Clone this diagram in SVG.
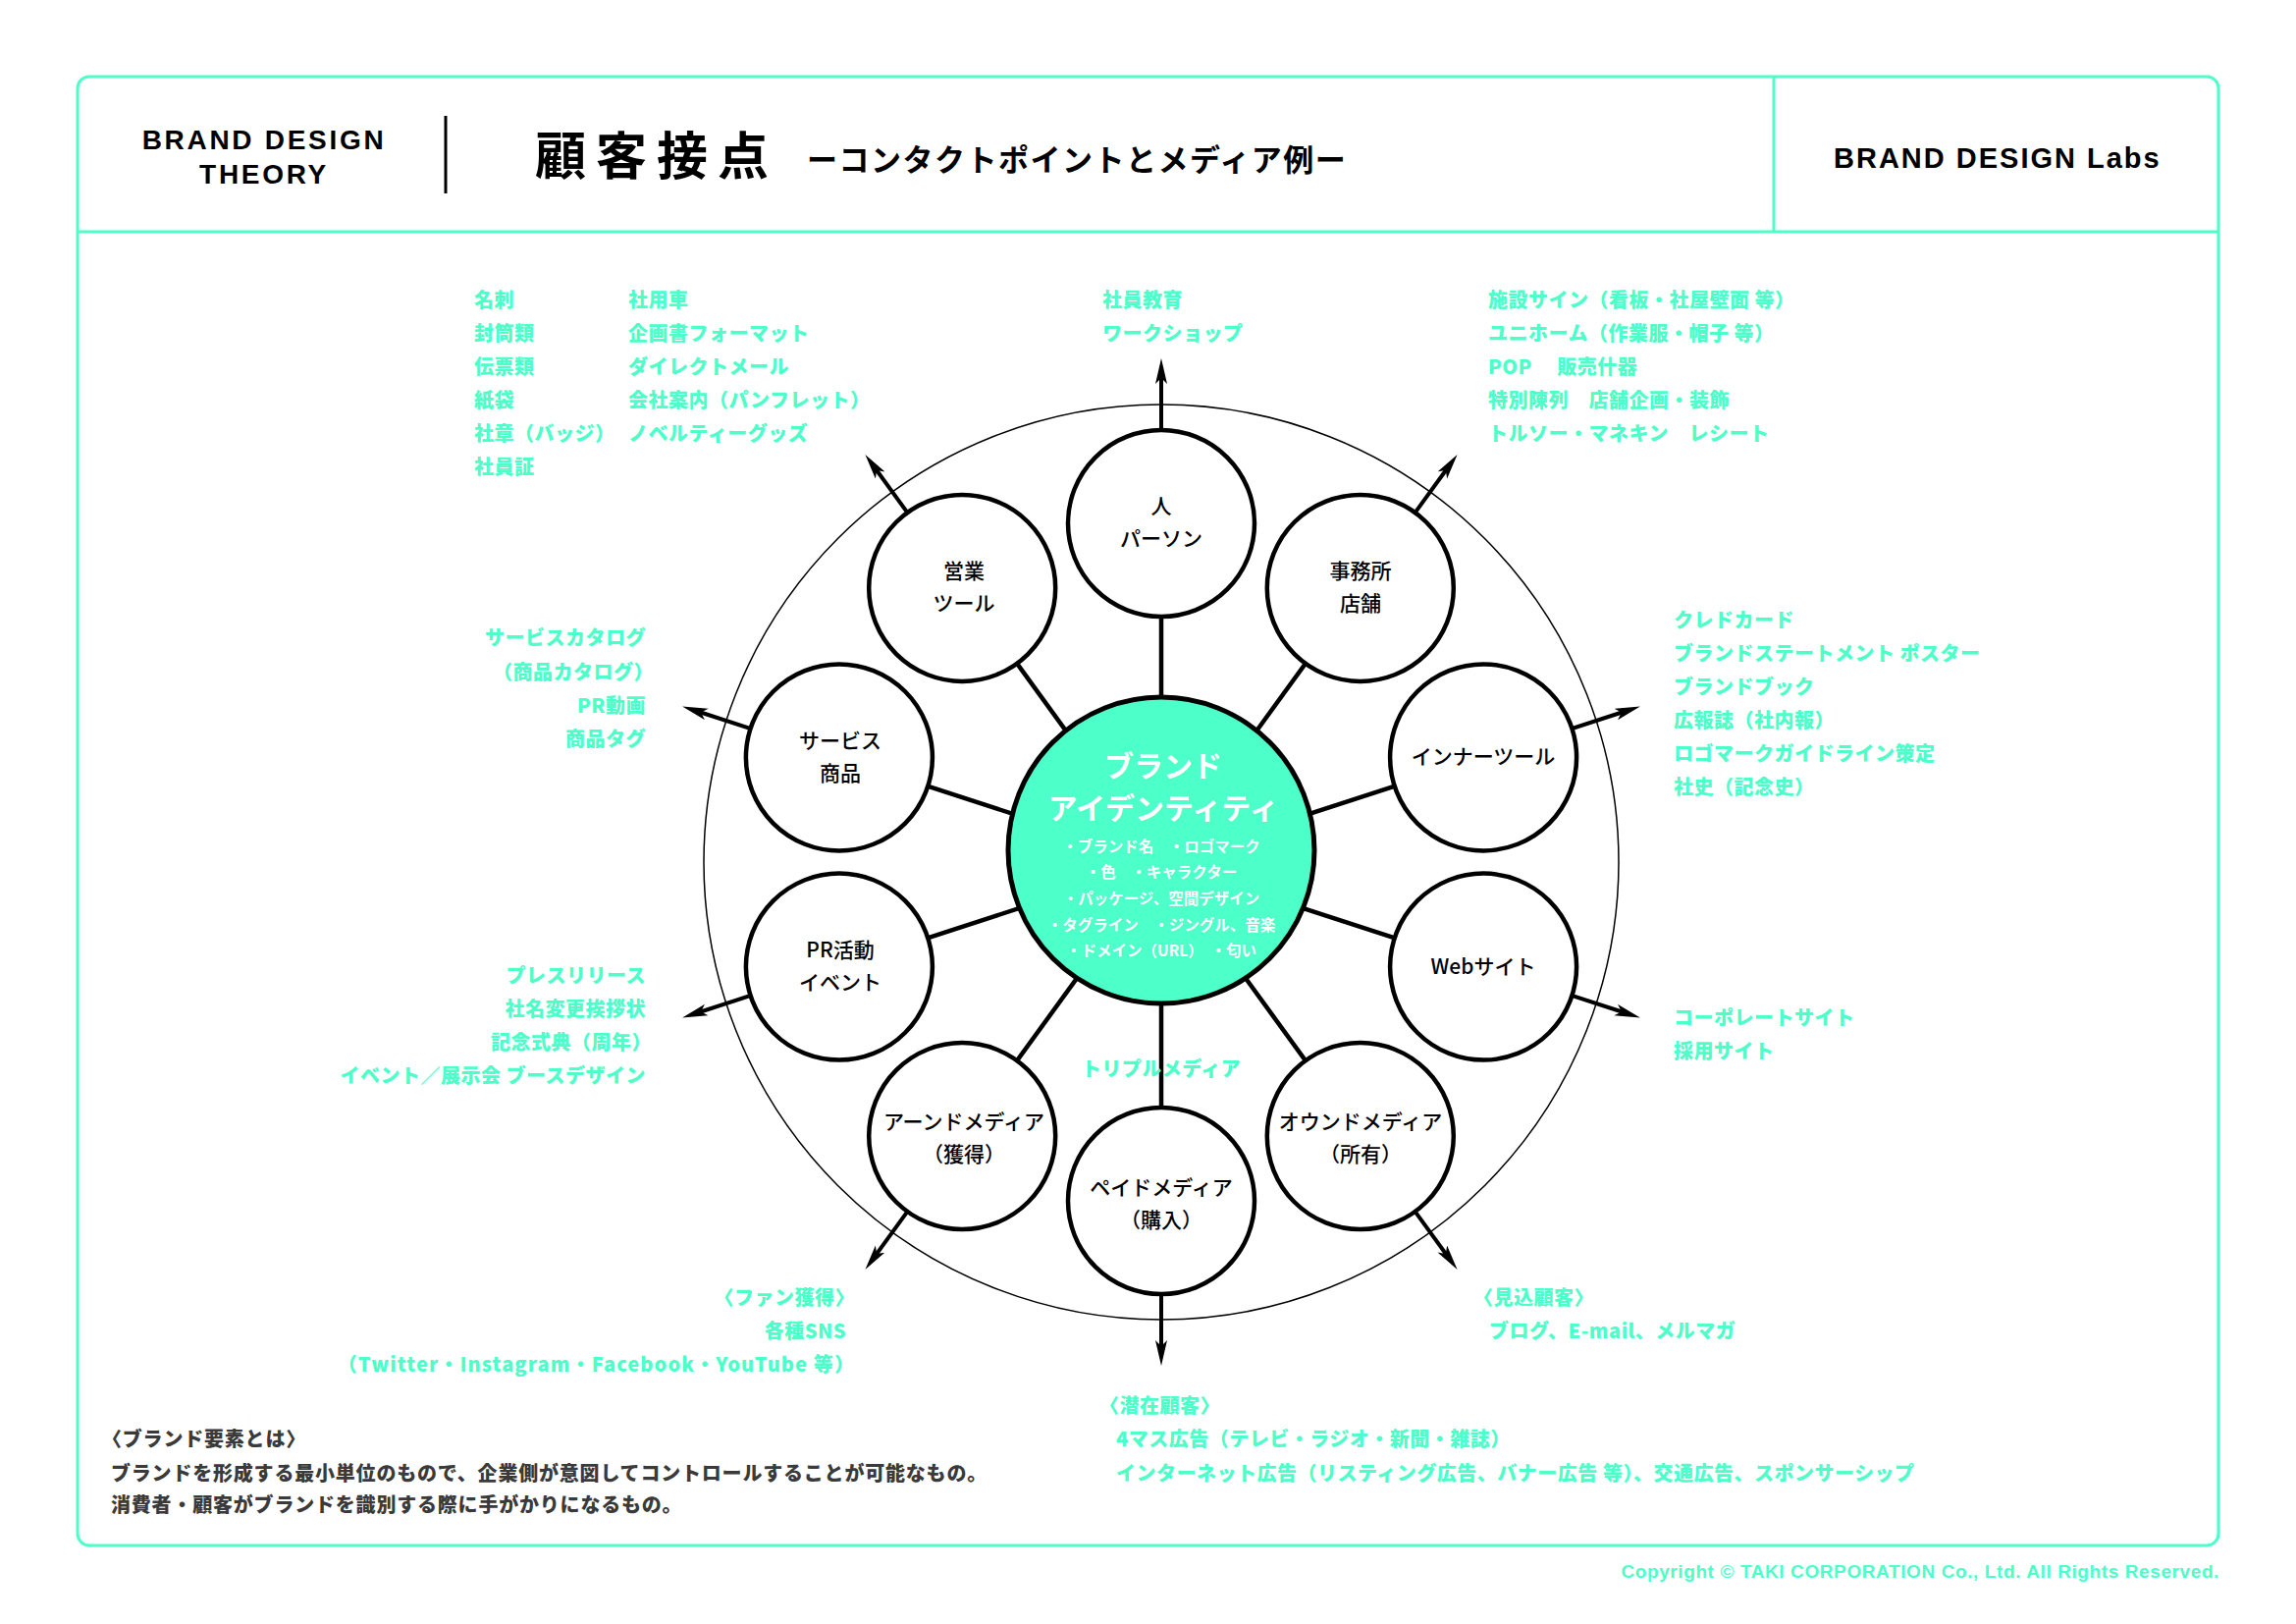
<svg xmlns="http://www.w3.org/2000/svg" width="2339" height="1654" viewBox="0 0 2339 1654">
<defs>
<style>
.frame{fill:none;stroke:#4DFFC8;stroke-width:3}
.jp{font-family:"Noto Sans CJK JP","Liberation Sans",sans-serif;font-weight:700}
.lat{font-family:"Liberation Sans","Noto Sans",sans-serif;font-weight:700}
.list{font-family:"Noto Sans CJK JP","Liberation Sans",sans-serif;font-weight:900;font-size:20px;fill:#4DFFC8;letter-spacing:0.5px}
.node{fill:#fff;stroke:#000;stroke-width:4.5}
.nlabel{font-family:"Noto Sans CJK JP","Liberation Sans",sans-serif;font-weight:500;font-size:21px;fill:#000;text-anchor:middle}
.spoke{stroke:#000;stroke-width:4.5;fill:none}
.arrow{stroke:#000;stroke-width:4;fill:none;marker-end:url(#ah)}
.note{font-family:"Noto Sans CJK JP","Liberation Sans",sans-serif;font-weight:900;font-size:20px;fill:#3a3a3a;letter-spacing:0.8px}
.ctr{font-family:"Noto Sans CJK JP","Liberation Sans",sans-serif;font-weight:700;fill:#fff;text-anchor:middle}
</style>
<marker id="ah" markerUnits="userSpaceOnUse" markerWidth="30" markerHeight="14" refX="8" refY="6" orient="auto">
<path d="M0,0 L26,6 L0,12 L6,6 Z" fill="#000"/>
</marker>
</defs>
<rect width="2339" height="1654" fill="#fff"/>

<g id="frame">
<rect class="frame" x="79" y="78" width="2181" height="1496" rx="12"/>
<line class="frame" x1="79" y1="236" x2="2260" y2="236"/>
<line class="frame" x1="1807" y1="78" x2="1807" y2="236"/>
<line x1="454" y1="118" x2="454" y2="197" stroke="#000" stroke-width="3"/>
</g>

<g id="header">
<text class="lat" x="269" y="152" font-size="28" letter-spacing="2.7" text-anchor="middle">BRAND DESIGN</text>
<text class="lat" x="269" y="187" font-size="28" letter-spacing="2.7" text-anchor="middle">THEORY</text>
<text class="jp" x="545" y="178" font-size="52" font-weight="900" letter-spacing="10">顧客接点</text>
<text class="jp" x="822" y="174" font-size="31" font-weight="900" letter-spacing="1.5">ーコンタクトポイントとメディア例ー</text>
<text class="lat" x="1868" y="171" font-size="29" letter-spacing="2">BRAND DESIGN Labs</text>
</g>

<circle id="outer-ring" cx="1183" cy="878" r="466" fill="none" stroke="#000" stroke-width="1.5"/>

<g id="connectors">
<line class="spoke" x1="1183" y1="878" x2="1183" y2="533"/>
<line class="spoke" x1="1183" y1="878" x2="1385.8" y2="598.9"/>
<line class="spoke" x1="1183" y1="878" x2="1511.1" y2="771.4"/>
<line class="spoke" x1="1183" y1="878" x2="1511.1" y2="984.6"/>
<line class="spoke" x1="1183" y1="878" x2="1385.8" y2="1157.1"/>
<line class="spoke" x1="1183" y1="878" x2="1183" y2="1223"/>
<line class="spoke" x1="1183" y1="878" x2="980.2" y2="1157.1"/>
<line class="spoke" x1="1183" y1="878" x2="854.9" y2="984.6"/>
<line class="spoke" x1="1183" y1="878" x2="854.9" y2="771.4"/>
<line class="spoke" x1="1183" y1="878" x2="980.2" y2="598.9"/>
<line class="arrow" x1="1183" y1="533" x2="1183" y2="383"/>
<line class="arrow" x1="1385.8" y1="598.9" x2="1474.0" y2="477.5"/>
<line class="arrow" x1="1511.1" y1="771.4" x2="1653.8" y2="725.0"/>
<line class="arrow" x1="1511.1" y1="984.6" x2="1653.8" y2="1031.0"/>
<line class="arrow" x1="1385.8" y1="1157.1" x2="1474.0" y2="1278.5"/>
<line class="arrow" x1="1183" y1="1223" x2="1183" y2="1373"/>
<line class="arrow" x1="980.2" y1="1157.1" x2="892.0" y2="1278.5"/>
<line class="arrow" x1="854.9" y1="984.6" x2="712.2" y2="1031.0"/>
<line class="arrow" x1="854.9" y1="771.4" x2="712.2" y2="725.0"/>
<line class="arrow" x1="980.2" y1="598.9" x2="892.0" y2="477.5"/>
</g>

<g id="brand-identity">
<circle cx="1183" cy="866" r="156" fill="#4DFFC8" stroke="#000" stroke-width="5"/>
<text class="ctr" x="1185" y="791" font-size="30">ブランド</text>
<text class="ctr" x="1185" y="834" font-size="30">アイデンティティ</text>
<text class="ctr" x="1183" y="868" font-size="15.5">・ブランド名　・ロゴマーク</text>
<text class="ctr" x="1183" y="894" font-size="15.5">・色　・キャラクター</text>
<text class="ctr" x="1183" y="921" font-size="15.5">・パッケージ、空間デザイン</text>
<text class="ctr" x="1183" y="948" font-size="15.5">・タグライン　・ジングル、音楽</text>
<text class="ctr" x="1183" y="974" font-size="15.5">・ドメイン（URL）　・匂い</text>
</g>

<g id="node-person"><circle class="node" cx="1183" cy="533" r="95"/>
<text class="nlabel" x="1183" y="523">人</text><text class="nlabel" x="1183" y="556">パーソン</text></g>
<g id="node-office"><circle class="node" cx="1385.8" cy="598.9" r="95"/>
<text class="nlabel" x="1386" y="589">事務所</text><text class="nlabel" x="1386" y="622">店舗</text></g>
<g id="node-inner"><circle class="node" cx="1511.1" cy="771.4" r="95"/>
<text class="nlabel" x="1511" y="778">インナーツール</text></g>
<g id="node-web"><circle class="node" cx="1511.1" cy="984.6" r="95"/>
<text class="nlabel" x="1511" y="992">Webサイト</text></g>
<g id="node-owned"><circle class="node" cx="1385.8" cy="1157.1" r="95"/>
<text class="nlabel" x="1386" y="1150">オウンドメディア</text><text class="nlabel" x="1386" y="1183">（所有）</text></g>
<g id="node-paid"><circle class="node" cx="1183" cy="1223" r="95"/>
<text class="nlabel" x="1183" y="1217">ペイドメディア</text><text class="nlabel" x="1183" y="1250">（購入）</text></g>
<g id="node-earned"><circle class="node" cx="980.2" cy="1157.1" r="95"/>
<text class="nlabel" x="982" y="1150">アーンドメディア</text><text class="nlabel" x="982" y="1183">（獲得）</text></g>
<g id="node-pr"><circle class="node" cx="854.9" cy="984.6" r="95"/>
<text class="nlabel" x="856" y="975">PR活動</text><text class="nlabel" x="856" y="1008">イベント</text></g>
<g id="node-service"><circle class="node" cx="854.9" cy="771.4" r="95"/>
<text class="nlabel" x="856" y="762">サービス</text><text class="nlabel" x="856" y="795">商品</text></g>
<g id="node-sales"><circle class="node" cx="980.2" cy="598.9" r="95"/>
<text class="nlabel" x="982" y="589">営業</text><text class="nlabel" x="982" y="622">ツール</text></g>

<g id="labels">
<text class="list" x="483" y="313">名刺</text>
<text class="list" x="483" y="347">封筒類</text>
<text class="list" x="483" y="381">伝票類</text>
<text class="list" x="483" y="415">紙袋</text>
<text class="list" x="483" y="449">社章（バッジ）</text>
<text class="list" x="483" y="483">社員証</text>
<text class="list" x="640" y="313">社用車</text>
<text class="list" x="640" y="347">企画書フォーマット</text>
<text class="list" x="640" y="381">ダイレクトメール</text>
<text class="list" x="640" y="415">会社案内（パンフレット）</text>
<text class="list" x="640" y="449">ノベルティーグッズ</text>

<text class="list" x="1123" y="313">社員教育</text>
<text class="list" x="1123" y="347">ワークショップ</text>

<text class="list" x="1516" y="313">施設サイン（看板・社屋壁面 等）</text>
<text class="list" x="1516" y="347">ユニホーム（作業服・帽子 等）</text>
<text class="list" x="1516" y="381">POP　 販売什器</text>
<text class="list" x="1516" y="415">特別陳列　店舗企画・装飾</text>
<text class="list" x="1516" y="449">トルソー・マネキン　レシート</text>

<text class="list" x="1705" y="639">クレドカード</text>
<text class="list" x="1705" y="673">ブランドステートメント ポスター</text>
<text class="list" x="1705" y="707">ブランドブック</text>
<text class="list" x="1705" y="741">広報誌（社内報）</text>
<text class="list" x="1705" y="775">ロゴマークガイドライン策定</text>
<text class="list" x="1705" y="809">社史（記念史）</text>

<text class="list" x="1705" y="1044">コーポレートサイト</text>
<text class="list" x="1705" y="1078">採用サイト</text>

<text class="list" x="658" y="657" text-anchor="end">サービスカタログ</text>
<text class="list" x="666" y="692" text-anchor="end">（商品カタログ）</text>
<text class="list" x="658" y="726" text-anchor="end">PR動画</text>
<text class="list" x="658" y="760" text-anchor="end">商品タグ</text>

<text class="list" x="658" y="1001" text-anchor="end">プレスリリース</text>
<text class="list" x="658" y="1035" text-anchor="end">社名変更挨拶状</text>
<text class="list" x="664" y="1069" text-anchor="end">記念式典（周年）</text>
<text class="list" x="658" y="1103" text-anchor="end">イベント／展示会 ブースデザイン</text>

<text class="list" x="1183" y="1096" text-anchor="middle">トリプルメディア</text>

<text class="list" x="871" y="1329" text-anchor="end">〈ファン獲得〉</text>
<text class="list" x="862" y="1363" text-anchor="end">各種SNS</text>
<text class="list" x="871" y="1397" text-anchor="end" style="letter-spacing:1.1px">（Twitter・Instagram・Facebook・YouTube 等）</text>

<text class="list" x="1501" y="1329">〈見込顧客〉</text>
<text class="list" x="1517" y="1363">ブログ、E-mail、メルマガ</text>

<text class="list" x="1120" y="1439">〈潜在顧客〉</text>
<text class="list" x="1137" y="1473">4マス広告（テレビ・ラジオ・新聞・雑誌）</text>
<text class="list" x="1137" y="1508">インターネット広告（リスティング広告、バナー広告 等）、交通広告、スポンサーシップ</text>
</g>

<g id="note">
<text class="note" x="104" y="1473">〈ブランド要素とは〉</text>
<text class="note" x="113" y="1508">ブランドを形成する最小単位のもので、企業側が意図してコントロールすることが可能なもの。</text>
<text class="note" x="113" y="1540">消費者・顧客がブランドを識別する際に手がかりになるもの。</text>
</g>

<text class="lat" x="2261" y="1607" font-size="19" font-weight="400" letter-spacing="0.6" fill="#4DFFC8" text-anchor="end">Copyright © TAKI CORPORATION Co., Ltd. All Rights Reserved.</text>
</svg>
